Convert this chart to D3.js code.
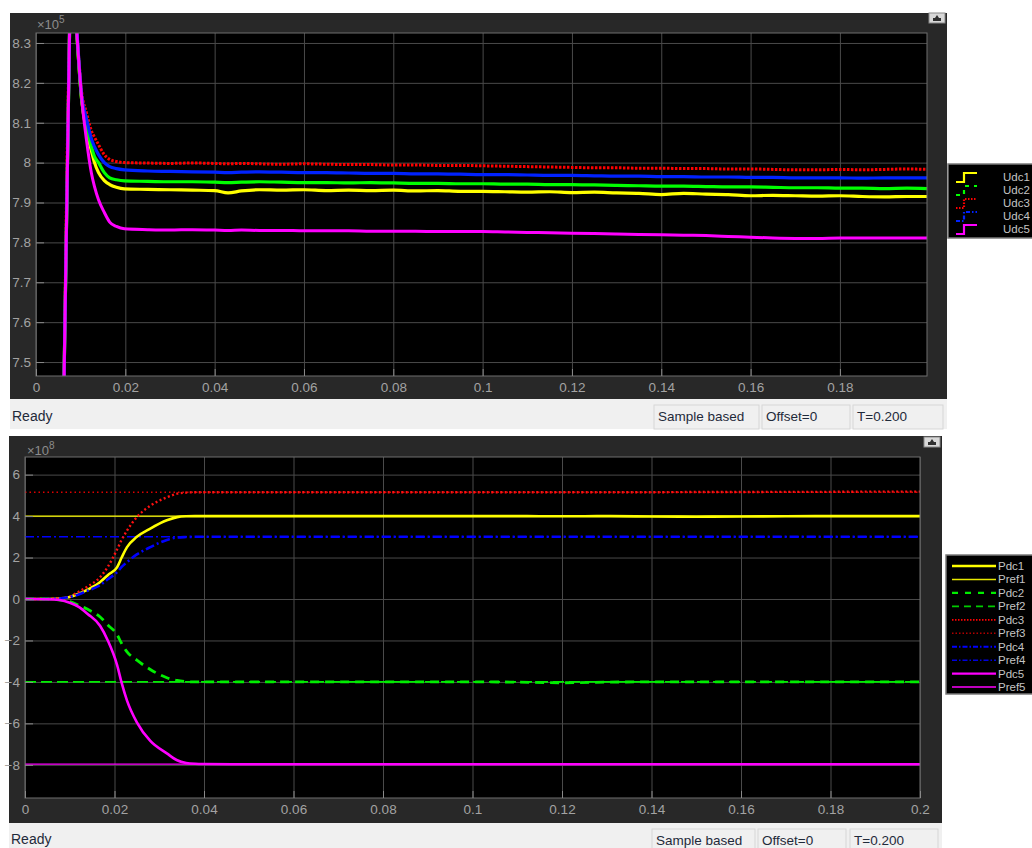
<!DOCTYPE html>
<html>
<head>
<meta charset="utf-8">
<script src="https://cdn.jsdelivr.net/npm/d3@7"></script>
<style>
  body { margin: 0; background: #fff; }
  text { font-family: "Liberation Sans", Arial, sans-serif; }
</style>
</head>
<body>
<svg id="chart" width="1032" height="848"></svg>
<script>
// ---- data ----
// top scope: DC voltages (x 1e5)
const tU = [0.006, 0.0063, 0.0075, 0.0082, 0.0091, 0.0102, 0.0113, 0.0124, 0.0131, 0.014,
  0.0153, 0.0165, 0.018, 0.0198, 0.025, 0.03, 0.035, 0.04, 0.043, 0.046,
  0.05, 0.055, 0.06, 0.065, 0.07, 0.075, 0.08, 0.085, 0.09, 0.095,
  0.1, 0.105, 0.11, 0.115, 0.12, 0.125, 0.13, 0.135, 0.14, 0.145,
  0.15, 0.155, 0.16, 0.165, 0.17, 0.175, 0.18, 0.185, 0.19, 0.195, 0.1995];
const udc1 = [7.2, 7.47, 8.32, 8.5, 8.33, 8.16, 8.08, 8.03, 8.0, 7.975,
  7.955, 7.945, 7.938, 7.934, 7.933, 7.932, 7.931, 7.93, 7.924, 7.929,
  7.932, 7.931, 7.932, 7.93, 7.931, 7.93, 7.931, 7.929, 7.93, 7.928,
  7.928, 7.927, 7.926, 7.927, 7.925, 7.926, 7.924, 7.923, 7.92, 7.923,
  7.921, 7.92, 7.917, 7.918, 7.917, 7.916, 7.917, 7.915, 7.914, 7.915, 7.915];
const udc2 = [7.2, 7.47, 8.32, 8.5, 8.33, 8.16, 8.09, 8.04, 8.015, 8.0,
  7.975, 7.962, 7.957, 7.954, 7.953, 7.952, 7.952, 7.951, 7.95, 7.951,
  7.952, 7.951, 7.95, 7.95, 7.949, 7.95, 7.949, 7.948, 7.948, 7.947,
  7.947, 7.946, 7.946, 7.945, 7.945, 7.944, 7.943, 7.942, 7.941, 7.941,
  7.94, 7.939, 7.939, 7.938, 7.937, 7.937, 7.936, 7.936, 7.935, 7.936, 7.935];
const udc3 = [7.2, 7.47, 8.32, 8.5, 8.34, 8.18, 8.125, 8.08, 8.064, 8.045,
  8.02, 8.008, 8.003, 8.0, 7.999, 7.998, 7.999, 7.998, 7.997, 7.998,
  7.997, 7.996, 7.997, 7.996, 7.995, 7.995, 7.994, 7.994, 7.993, 7.993,
  7.992, 7.991, 7.99, 7.989, 7.988, 7.987, 7.987, 7.986, 7.986, 7.985,
  7.985, 7.984, 7.984, 7.983, 7.982, 7.982, 7.983, 7.982, 7.983, 7.984, 7.983];
const udc4 = [7.2, 7.47, 8.32, 8.5, 8.34, 8.17, 8.11, 8.06, 8.04, 8.02,
  8.0, 7.99, 7.985, 7.982, 7.979, 7.978, 7.977, 7.976, 7.975, 7.976,
  7.977, 7.976, 7.975, 7.975, 7.974, 7.973, 7.973, 7.972, 7.972, 7.971,
  7.97, 7.97, 7.969, 7.968, 7.968, 7.967, 7.966, 7.966, 7.965, 7.965,
  7.964, 7.964, 7.963, 7.963, 7.962, 7.962, 7.962, 7.961, 7.962, 7.962, 7.962];
const udc5 = [7.2, 7.47, 8.32, 8.5, 8.333, 8.165, 8.057, 7.974, 7.94, 7.907,
  7.875, 7.851, 7.84, 7.834, 7.832, 7.831, 7.832, 7.831, 7.83, 7.831,
  7.83, 7.83, 7.829, 7.829, 7.829, 7.828, 7.828, 7.828, 7.827, 7.827,
  7.827, 7.826, 7.825, 7.824, 7.823, 7.822, 7.821, 7.82, 7.819, 7.818,
  7.817, 7.815, 7.813, 7.811, 7.81, 7.81, 7.811, 7.811, 7.811, 7.811, 7.811];

// bottom scope: DC powers (x 1e8)
const tP = [0, 0.005, 0.0078, 0.01, 0.012, 0.014, 0.0168, 0.0185, 0.0206, 0.0216,
  0.0228, 0.025, 0.028, 0.0317, 0.034, 0.036, 0.038, 0.04, 0.05, 0.06,
  0.07, 0.08, 0.09, 0.1, 0.11, 0.12, 0.13, 0.14, 0.15, 0.16,
  0.17, 0.18, 0.19, 0.2];
const pdc1 = [0, 0, 0.02, 0.1, 0.25, 0.45, 0.82, 1.15, 1.54, 2.0,
  2.5, 3.0, 3.4, 3.8, 3.95, 3.99, 4.0, 4.0, 4.0, 4.0,
  4.0, 4.0, 4.0, 4.0, 4.0, 3.99, 4.0, 3.98, 3.97, 3.98,
  3.99, 4.0, 4.0, 4.0];
const pdc2 = [0, 0, -0.05, -0.12, -0.3, -0.5, -0.87, -1.25, -1.73, -2.15,
  -2.55, -2.95, -3.4, -3.8, -3.93, -3.98, -4.0, -4.0, -4.0, -4.0,
  -4.0, -4.0, -4.0, -4.0, -4.01, -4.04, -4.01, -4.0, -4.0, -4.0,
  -4.0, -4.0, -4.0, -4.0];
const pdc3 = [0, 0, 0.03, 0.12, 0.35, 0.6, 1.06, 1.55, 2.4, 2.85,
  3.3, 3.95, 4.5, 4.9, 5.08, 5.13, 5.15, 5.15, 5.15, 5.15,
  5.15, 5.15, 5.15, 5.15, 5.15, 5.15, 5.15, 5.15, 5.16, 5.16,
  5.17, 5.17, 5.18, 5.18];
const pdc4 = [0, 0, 0.02, 0.1, 0.22, 0.4, 0.67, 0.95, 1.3, 1.55,
  1.78, 2.15, 2.5, 2.85, 2.97, 2.99, 3.0, 3.0, 3.0, 3.0,
  3.0, 3.0, 3.0, 3.0, 3.0, 3.0, 3.0, 3.0, 3.0, 3.0,
  3.0, 3.0, 3.0, 3.0];
const pdc5 = [0, -0.01, -0.05, -0.18, -0.38, -0.72, -1.3, -2.0, -3.2, -4.05,
  -4.9, -5.95, -6.85, -7.45, -7.78, -7.91, -7.95, -7.96, -7.97, -7.97,
  -7.97, -7.97, -7.97, -7.97, -7.97, -7.97, -7.97, -7.97, -7.97, -7.97,
  -7.97, -7.97, -7.97, -7.97];
const tRef = [0, 0.2];
const pref1 = [4, 4];
const pref2 = [-4, -4];
const pref3 = [5.15, 5.15];
const pref4 = [3, 3];
const pref5 = [-7.97, -7.97];

const xTicksTop = [0, 0.02, 0.04, 0.06, 0.08, 0.1, 0.12, 0.14, 0.16, 0.18];
const xTicksBot = [0, 0.02, 0.04, 0.06, 0.08, 0.1, 0.12, 0.14, 0.16, 0.18, 0.2];
const yTicksTop = [7.5, 7.6, 7.7, 7.8, 7.9, 8, 8.1, 8.2, 8.3];
const yTicksBot = [-8, -6, -4, -2, 0, 2, 4, 6];

const topSeries = [
  { name: "Udc1", t: tU, v: udc1, color: "#ffff00", dash: null, w: 3.2 },
  { name: "Udc2", t: tU, v: udc2, color: "#00ff00", dash: null, w: 3.2 },
  { name: "Udc3", t: tU, v: udc3, color: "#ff0000", dash: "2.5,1.5", w: 3 },
  { name: "Udc4", t: tU, v: udc4, color: "#0022ff", dash: null, w: 3.2 },
  { name: "Udc5", t: tU, v: udc5, color: "#ff00ff", dash: null, w: 3 }
];
const topLegend = [
  { name: "Udc1", color: "#ffff00", dash: null },
  { name: "Udc2", color: "#00ff00", dash: "4,5" },
  { name: "Udc3", color: "#ff0000", dash: "1.5,1.5" },
  { name: "Udc4", color: "#0022ff", dash: "4,2,1.5,2" },
  { name: "Udc5", color: "#ff00ff", dash: null }
];
const botSeries = [
  { name: "Pref1", t: tRef, v: pref1, color: "#ffff00", dash: null, w: 1.3 },
  { name: "Pref2", t: tRef, v: pref2, color: "#00ee00", dash: "11,5", w: 1.6 },
  { name: "Pref3", t: tRef, v: pref3, color: "#dd0000", dash: "1.5,3", w: 1.5 },
  { name: "Pref4", t: tRef, v: pref4, color: "#0000ff", dash: "9,3,2,3", w: 1.6 },
  { name: "Pref5", t: tRef, v: pref5, color: "#ff00ff", dash: null, w: 1.3 },
  { name: "Pdc1", t: tP, v: pdc1, color: "#ffff00", dash: null, w: 2.6 },
  { name: "Pdc2", t: tP, v: pdc2, color: "#00ee00", dash: "9,6", w: 2.8 },
  { name: "Pdc3", t: tP, v: pdc3, color: "#ff1010", dash: "2,2.5", w: 2.4 },
  { name: "Pdc4", t: tP, v: pdc4, color: "#0000ff", dash: "9,3,2,3", w: 2.6 },
  { name: "Pdc5", t: tP, v: pdc5, color: "#ff00ff", dash: null, w: 2.6 }
];
const botLegend = [
  { name: "Pdc1", color: "#ffff00", dash: null, w: 2.4 },
  { name: "Pref1", color: "#e8e800", dash: null, w: 1.4 },
  { name: "Pdc2", color: "#00ee00", dash: "6,7", w: 2.4 },
  { name: "Pref2", color: "#00cc00", dash: "7,5", w: 1.6 },
  { name: "Pdc3", color: "#ff0000", dash: "1.5,1.5", w: 1.8 },
  { name: "Pref3", color: "#b00000", dash: "1.5,2", w: 1.4 },
  { name: "Pdc4", color: "#0000ff", dash: "5,2,1.5,2", w: 2 },
  { name: "Pref4", color: "#0000dd", dash: "5,2,1.5,2", w: 1.5 },
  { name: "Pdc5", color: "#ff00ff", dash: null, w: 2.4 },
  { name: "Pref5", color: "#ff00ff", dash: null, w: 1.4 }
];

const svg = d3.select("#chart");
const labelGray = "#a3a3a3";

const drawScope = (cfg) => {
  const g = svg.append("g");

  // dark scope frame
  g.append("rect")
    .attr("x", cfg.frame[0]).attr("y", cfg.frame[1])
    .attr("width", cfg.frame[2] - cfg.frame[0]).attr("height", cfg.frame[3] - cfg.frame[1])
    .attr("fill", "#282828");

  const x = d3.scaleLinear().domain(cfg.xDomain).range([cfg.plot[0], cfg.plot[2]]);
  const y = d3.scaleLinear().domain(cfg.yDomain).range([cfg.plot[3], cfg.plot[1]]);
  const pw = cfg.plot[2] - cfg.plot[0];
  const ph = cfg.plot[3] - cfg.plot[1];

  g.append("rect")
    .attr("x", cfg.plot[0]).attr("y", cfg.plot[1])
    .attr("width", pw).attr("height", ph)
    .attr("fill", "#000");

  // grid
  g.append("g")
    .attr("transform", `translate(0,${cfg.plot[3]})`)
    .call(d3.axisBottom(x).tickValues(cfg.xTicks).tickSize(-ph).tickFormat(""))
    .call(a => a.select(".domain").remove())
    .call(a => a.selectAll("line").attr("stroke", "#4a4a4a"));
  g.append("g")
    .attr("transform", `translate(${cfg.plot[0]},0)`)
    .call(d3.axisLeft(y).tickValues(cfg.yTicks).tickSize(-pw).tickFormat(""))
    .call(a => a.select(".domain").remove())
    .call(a => a.selectAll("line").attr("stroke", "#4a4a4a"));

  // curves
  const clipId = "clip" + cfg.id;
  g.append("clipPath").attr("id", clipId)
    .append("rect")
    .attr("x", cfg.plot[0]).attr("y", cfg.plot[1])
    .attr("width", pw).attr("height", ph);

  const line = d3.line().x(d => x(d[0])).y(d => y(d[1])).curve(d3.curveMonotoneX);
  g.append("g")
    .attr("clip-path", `url(#${clipId})`)
    .selectAll("path")
    .data(cfg.series)
    .join("path")
    .attr("d", s => line(s.t.map((t, i) => [t, s.v[i]])))
    .attr("fill", "none")
    .attr("stroke", s => s.color)
    .attr("stroke-width", s => s.w)
    .attr("stroke-dasharray", s => s.dash)
    .attr("stroke-linejoin", "round");

  // axes box
  g.append("rect")
    .attr("x", cfg.plot[0]).attr("y", cfg.plot[1])
    .attr("width", pw).attr("height", ph)
    .attr("fill", "none").attr("stroke", "#6e6e6e");

  // tick marks and labels
  g.append("g")
    .attr("transform", `translate(0,${cfg.plot[3]})`)
    .call(d3.axisBottom(x).tickValues(cfg.xTicks).tickSize(-7).tickPadding(6)
      .tickFormat(d => d3.format("~g")(d)))
    .call(a => a.select(".domain").remove())
    .call(a => a.selectAll("line").attr("stroke", "#8a8a8a"))
    .call(a => a.selectAll("text").attr("fill", labelGray).attr("font-size", 13.5)
      .attr("font-family", "Liberation Sans, Arial, sans-serif"));
  g.append("g")
    .attr("transform", `translate(${cfg.plot[0]},0)`)
    .call(d3.axisLeft(y).tickValues(cfg.yTicks).tickSize(-8).tickPadding(cfg.yPad)
      .tickFormat(d => d3.format("~g")(d)))
    .call(a => a.select(".domain").remove())
    .call(a => a.selectAll("line").attr("stroke", "#8a8a8a"))
    .call(a => a.selectAll("text").attr("fill", labelGray).attr("font-size", 13.5)
      .attr("font-family", "Liberation Sans, Arial, sans-serif"));

  // exponent label
  const ex = g.append("text")
    .attr("x", cfg.expPos[0]).attr("y", cfg.expPos[1])
    .attr("fill", "#8c8c8c").attr("font-size", 13);
  ex.append("tspan").text("\u00d710");
  ex.append("tspan").attr("dy", -6).attr("font-size", 10).text(cfg.exp);

  // expand button
  const bx = cfg.button[0], by = cfg.button[1];
  g.append("rect").attr("x", bx).attr("y", by).attr("width", 16).attr("height", 10)
    .attr("fill", "#d8d8d8").attr("stroke", "#8a8a8a");
  g.append("path")
    .attr("d", `M${bx + 4},${by + 8}H${bx + 12}V${by + 5}H${bx + 10}L${bx + 8},${by + 2}L${bx + 6},${by + 5}H${bx + 4}Z`)
    .attr("fill", "#303030");

  // status bar
  g.append("rect")
    .attr("x", cfg.frame[0]).attr("y", cfg.frame[3])
    .attr("width", cfg.frame[2] - cfg.frame[0]).attr("height", cfg.statusH)
    .attr("fill", "#f0f0f0");
  g.append("text")
    .attr("x", cfg.frame[0] + 2).attr("y", cfg.frame[3] + cfg.statusText)
    .attr("fill", "#1f2a3a").attr("font-size", 14).text("Ready");

  const boxes = g.selectAll(".sbox")
    .data(cfg.boxes)
    .join("g");
  boxes.append("rect")
    .attr("x", d => d.x0).attr("y", cfg.frame[3] + cfg.boxTop)
    .attr("width", d => d.x1 - d.x0).attr("height", 24)
    .attr("fill", "#f0f0f0").attr("stroke", "#d6d6d6");
  boxes.append("text")
    .attr("x", d => d.x0 + 4).attr("y", cfg.frame[3] + cfg.boxTop + 16)
    .attr("fill", "#1f2a3a").attr("font-size", 13.5)
    .text(d => d.label);

  // legend
  const lg = svg.append("g");
  lg.append("rect")
    .attr("x", cfg.legend.x).attr("y", cfg.legend.y)
    .attr("width", 1032 - cfg.legend.x + 2).attr("height", cfg.legend.h)
    .attr("fill", "#000").attr("stroke", "#7a7a7a").attr("stroke-width", 1.5);
  const rows = lg.selectAll(".row")
    .data(cfg.legend.items)
    .join("g")
    .attr("transform", (d, i) => `translate(0,${cfg.legend.y0 + i * cfg.legend.dy})`);
  rows.append("path")
    .attr("d", cfg.legend.glyph)
    .attr("fill", "none")
    .attr("stroke", d => d.color)
    .attr("stroke-width", d => d.w || 2.2)
    .attr("stroke-dasharray", d => d.dash);
  rows.append("text")
    .attr("x", cfg.legend.tx).attr("y", 4)
    .attr("fill", "#c4c4c4").attr("font-size", 11.5)
    .text(d => d.name);
};

drawScope({
  id: "top",
  frame: [10, 13, 947, 399],
  plot: [36, 33, 927, 376],
  xDomain: [0, 0.1995],
  yDomain: [7.465, 8.325],
  xTicks: xTicksTop,
  yTicks: yTicksTop,
  yPad: 5,
  series: topSeries,
  exp: "5",
  expPos: [37, 29],
  button: [929, 13],
  statusH: 30,
  statusText: 22,
  boxTop: 6,
  boxes: [
    { x0: 654, x1: 759, label: "Sample based" },
    { x0: 762, x1: 850, label: "Offset=0" },
    { x0: 853, x1: 943, label: "T=0.200" }
  ],
  legend: {
    x: 948, y: 164, h: 74, y0: 177, dy: 13, tx: 1003,
    glyph: "M956,5H964V-4H977",
    items: topLegend
  }
});

drawScope({
  id: "bot",
  frame: [9, 436, 942, 823],
  plot: [25, 457, 920, 798],
  xDomain: [0, 0.2],
  yDomain: [-9.6, 6.85],
  xTicks: xTicksBot,
  yTicks: yTicksBot,
  yPad: 5,
  series: botSeries,
  exp: "8",
  expPos: [27, 455],
  button: [924, 437],
  statusH: 25,
  statusText: 21,
  boxTop: 6,
  boxes: [
    { x0: 652, x1: 755, label: "Sample based" },
    { x0: 758, x1: 846, label: "Offset=0" },
    { x0: 850, x1: 938, label: "T=0.200" }
  ],
  legend: {
    x: 946, y: 555, h: 139, y0: 566, dy: 13.45, tx: 998,
    glyph: "M952,0H996",
    items: botLegend
  }
});
</script>
</body>
</html>
